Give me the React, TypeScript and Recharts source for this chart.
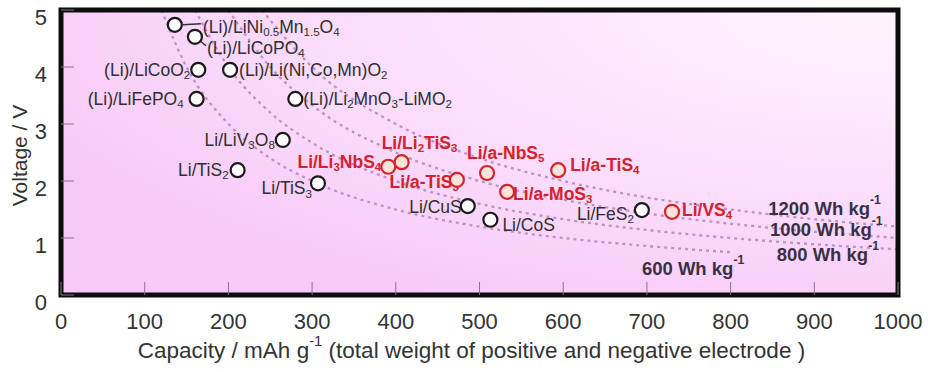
import React from 'react';
import {
  ComposedChart,
  Line,
  Scatter,
  XAxis,
  YAxis,
  CartesianGrid,
} from 'recharts';

// Couples with conventional positive electrodes (black markers)
const blackNames = [
  '(Li)/LiNi_{0.5}Mn_{1.5}O_4',
  '(Li)/LiCoPO_4',
  '(Li)/LiCoO_2',
  '(Li)/Li(Ni,Co,Mn)O_2',
  '(Li)/LiFePO_4',
  '(Li)/Li_2MnO_3-LiMO_2',
  'Li/LiV_3O_8',
  'Li/TiS_2',
  'Li/TiS_3',
  'Li/CuS',
  'Li/CoS',
  'Li/FeS_2',
];
const blackCapacity = [136, 160, 164, 202, 162, 280, 265, 211, 307, 486, 513, 694];
const blackVoltage = [4.74, 4.53, 3.95, 3.95, 3.44, 3.44, 2.72, 2.19, 1.96, 1.56, 1.32, 1.49];

// Sulfur-rich couples (red markers)
const redNames = [
  'Li/Li_3NbS_4',
  'Li/Li_2TiS_3',
  'Li/a-TiS_3',
  'Li/a-NbS_5',
  'Li/a-MoS_3',
  'Li/a-TiS_4',
  'Li/VS_4',
];
const redCapacity = [391, 407, 473, 509, 533, 594, 730];
const redVoltage = [2.25, 2.33, 2.02, 2.14, 1.81, 2.19, 1.46];

// Iso-energy curves (Wh/kg)
const curve600C = [120, 150, 200, 250, 300, 400, 500, 600, 700, 800];
const curve600V = [5.0, 4.0, 3.0, 2.4, 2.0, 1.5, 1.2, 1.0, 0.86, 0.75];
const curve800C = [160, 200, 250, 300, 400, 500, 600, 700, 800, 900, 1000];
const curve800V = [5.0, 4.0, 3.2, 2.67, 2.0, 1.6, 1.33, 1.14, 1.0, 0.89, 0.8];
const curve1000C = [200, 250, 300, 400, 500, 600, 700, 800, 900, 1000];
const curve1000V = [5.0, 4.0, 3.33, 2.5, 2.0, 1.67, 1.43, 1.25, 1.11, 1.0];
const curve1200C = [240, 300, 400, 500, 600, 700, 800, 900, 1000];
const curve1200V = [5.0, 4.0, 3.0, 2.4, 2.0, 1.71, 1.5, 1.33, 1.2];

const energyTags = ['1200', '1000', '800', '600'];
const tagCapacity = [845, 847, 855, 694];
const tagVoltage = [1.53, 1.16, 0.72, 0.47];

const xTicks = [0, 100, 200, 300, 400, 500, 600, 700, 800, 900, 1000];
const yTicks = [0, 1, 2, 3, 4, 5];

// plot frame traced around the axis domain
const frameC = [0, 0, 1000, 1000, 0];
const frameV = [0, 5, 5, 0, 0];

type Pt = { c: number; v: number; name: string };
const zip = (names: string[], cs: number[], vs: number[]): Pt[] =>
  names.map((name, i) => ({ name, c: cs[i], v: vs[i] }));
const toCurve = (cs: number[], vs: number[]) => cs.map((c, i) => ({ c, v: vs[i] }));

const blackPts = zip(blackNames, blackCapacity, blackVoltage);
const redPts = zip(redNames, redCapacity, redVoltage);
const tagPts = zip(energyTags, tagCapacity, tagVoltage);
const curves = [
  toCurve(curve600C, curve600V),
  toCurve(curve800C, curve800V),
  toCurve(curve1000C, curve1000V),
  toCurve(curve1200C, curve1200V),
];
const frame = toCurve(frameC, frameV);

const SANS = "'Liberation Sans', Arial, sans-serif";
const RED = '#d3232c';
const INK = '#2f2f2f';
const CURVE = '#bd92c2';

// label offsets from the marker centre, in px
type Place = { dx: number; dy: number; anchor: 'start' | 'end'; leader?: number[] };
const placement: Record<string, Place> = {
  '(Li)/LiNi_{0.5}Mn_{1.5}O_4': { dx: 28, dy: 2, anchor: 'start', leader: [8, 0, 26, -1] },
  '(Li)/LiCoPO_4': { dx: 12, dy: 11, anchor: 'start', leader: [5, 4, 11, 9] },
  '(Li)/LiCoO_2': { dx: -8, dy: 0, anchor: 'end' },
  '(Li)/Li(Ni,Co,Mn)O_2': { dx: 9, dy: 0, anchor: 'start' },
  '(Li)/LiFePO_4': { dx: -13, dy: 0, anchor: 'end' },
  '(Li)/Li_2MnO_3-LiMO_2': { dx: 8, dy: 0, anchor: 'start' },
  'Li/LiV_3O_8': { dx: -8, dy: 0, anchor: 'end' },
  'Li/TiS_2': { dx: -9, dy: 0, anchor: 'end' },
  'Li/TiS_3': { dx: -6, dy: 5, anchor: 'end' },
  'Li/CuS': { dx: -6, dy: 1, anchor: 'end' },
  'Li/CoS': { dx: 12, dy: 5, anchor: 'start' },
  'Li/FeS_2': { dx: -8, dy: 4, anchor: 'end' },
  'Li/Li_3NbS_4': { dx: -7, dy: -5, anchor: 'end' },
  'Li/Li_2TiS_3': { dx: -20, dy: -19, anchor: 'start' },
  'Li/a-TiS_3': { dx: 2, dy: 2, anchor: 'end' },
  'Li/a-NbS_5': { dx: -20, dy: -20, anchor: 'start' },
  'Li/a-MoS_3': { dx: 6, dy: 2, anchor: 'start' },
  'Li/a-TiS_4': { dx: 12, dy: -5, anchor: 'start' },
  'Li/VS_4': { dx: 10, dy: -2, anchor: 'start' },
};

type Part = { t: string; kind: 'n' | 'sub' | 'sup' };
function parseRich(src: string): Part[] {
  const out: Part[] = [];
  const re = /_\{([^}]*)\}|_(.)|\^\{([^}]*)\}|([^_^]+)/g;
  let m: RegExpExecArray | null;
  while ((m = re.exec(src))) {
    if (m[1] !== undefined) out.push({ t: m[1], kind: 'sub' });
    else if (m[2] !== undefined) out.push({ t: m[2], kind: 'sub' });
    else if (m[3] !== undefined) out.push({ t: m[3], kind: 'sup' });
    else out.push({ t: m[4], kind: 'n' });
  }
  return out;
}

function Rich({ src, size, ...rest }: any) {
  let shift = 0;
  const spans = parseRich(src).map((p, i) => {
    const target = p.kind === 'sub' ? size * 0.3 : p.kind === 'sup' ? -size * 0.42 : 0;
    const dy = target - shift;
    shift = target;
    return (
      <tspan key={i} dy={dy} fontSize={p.kind === 'n' ? size : size * 0.66}>
        {p.t}
      </tspan>
    );
  });
  return (
    <text fontSize={size} dominantBaseline="central" {...rest}>
      {spans}
    </text>
  );
}

const makeMarker = (red: boolean) => (props: any) => {
  const { cx, cy, payload } = props;
  const p = placement[payload.name];
  return (
    <g>
      {p.leader && (
        <line
          x1={cx + p.leader[0]}
          y1={cy + p.leader[1]}
          x2={cx + p.leader[2]}
          y2={cy + p.leader[3]}
          stroke={INK}
          strokeWidth={1.4}
        />
      )}
      <Rich
        src={payload.name}
        size={17.5}
        x={cx + p.dx}
        y={cy + p.dy}
        textAnchor={p.anchor}
        fontFamily={SANS}
        fontWeight={red ? 700 : 400}
        fill={red ? RED : INK}
      />
      <circle
        cx={cx}
        cy={cy}
        r={7}
        fill={red ? '#fde3da' : '#ffffff'}
        stroke={red ? RED : '#1a1a1a'}
        strokeWidth={2.2}
      />
    </g>
  );
};

const EnergyTag = (props: any) => {
  const { cx, cy, payload } = props;
  return (
    <Rich
      src={`${payload.name} Wh kg^{-1}`}
      size={18.5}
      x={cx}
      y={cy}
      textAnchor="start"
      fontFamily={SANS}
      fontWeight={700}
      fill="#3a3044"
    />
  );
};

const XTick = (props: any) => (
  <text
    x={props.x}
    y={props.y}
    dy="0.71em"
    textAnchor="middle"
    fontSize={22}
    fontFamily={SANS}
    fill="#333"
  >
    {props.payload.value}
  </text>
);

const YTick = (props: any) => (
  <text
    x={props.x}
    y={props.y + 7}
    textAnchor="end"
    dominantBaseline="central"
    fontSize={22}
    fontFamily={SANS}
    fill="#333"
  >
    {props.payload.value}
  </text>
);

const XTitle = (props: any) => {
  const vb = props.viewBox;
  return (
    <Rich
      src="Capacity / mAh g^{-1} (total weight of positive and negative electrode )"
      size={22.5}
      x={vb.x + vb.width / 2 - 8}
      y={vb.y + 55}
      textAnchor="middle"
      fontFamily={SANS}
      fill="#333"
    />
  );
};

const YTitle = (props: any) => {
  const vb = props.viewBox;
  const cy = vb.y + vb.height / 2 + 3;
  return (
    <text
      x={19}
      y={cy}
      transform={`rotate(-90, 19, ${cy})`}
      textAnchor="middle"
      dominantBaseline="central"
      fontSize={21}
      fontFamily={SANS}
      fill="#333"
    >
      Voltage / V
    </text>
  );
};

export default function App() {
  return (
    <div style={{ position: 'absolute', left: 0, top: 0, width: 928, height: 372, background: '#fff' }}>
      <ComposedChart width={928} height={372} margin={{ top: 10, right: 30, bottom: 0, left: 0 }}>
        <defs>
          <radialGradient id="plotBg" cx="1" cy="0" r="1.15">
            <stop offset="0%" stopColor="#fff5ff" />
            <stop offset="55%" stopColor="#fcdffc" />
            <stop offset="100%" stopColor="#f7c9f7" />
          </radialGradient>
        </defs>
        <CartesianGrid horizontal={false} vertical={false} fill="url(#plotBg)" />
        <XAxis
          dataKey="c"
          type="number"
          domain={[0, 1000]}
          ticks={xTicks}
          height={77}
          axisLine={false}
          tickSize={-13}
          tickMargin={31}
          tickLine={{ stroke: '#8d7090', strokeWidth: 1 }}
          tick={XTick}
          interval={0}
          label={{ content: XTitle }}
        />
        <YAxis
          dataKey="v"
          type="number"
          domain={[0, 5]}
          ticks={yTicks}
          width={61}
          axisLine={false}
          tickSize={-13}
          tickMargin={27}
          tickLine={{ stroke: '#8d7090', strokeWidth: 1 }}
          tick={YTick}
          interval={0}
          label={{ content: YTitle }}
        />
        {curves.map((data, i) => (
          <Line
            key={i}
            data={data}
            dataKey="v"
            type="monotone"
            stroke={CURVE}
            strokeWidth={2.3}
            strokeDasharray="3 4"
            dot={false}
            activeDot={false}
            isAnimationActive={false}
          />
        ))}
        <Line
          data={frame}
          dataKey="v"
          type="linear"
          stroke="#0d0d0d"
          strokeWidth={5}
          strokeLinejoin="miter"
          strokeLinecap="square"
          dot={false}
          activeDot={false}
          isAnimationActive={false}
        />
        <Scatter data={tagPts} dataKey="v" shape={EnergyTag} isAnimationActive={false} />
        <Scatter data={blackPts} dataKey="v" shape={makeMarker(false)} isAnimationActive={false} />
        <Scatter data={redPts} dataKey="v" shape={makeMarker(true)} isAnimationActive={false} />
      </ComposedChart>
    </div>
  );
}
